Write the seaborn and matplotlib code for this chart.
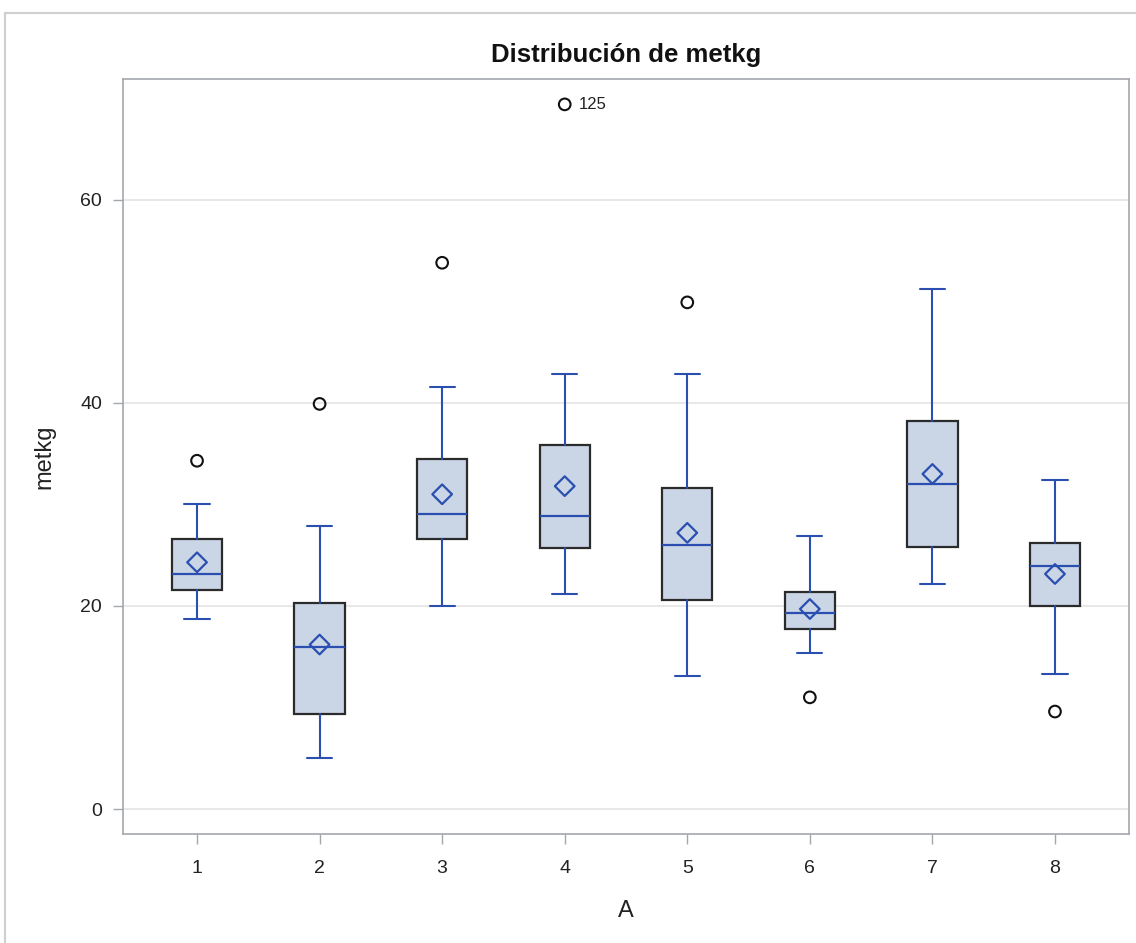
import numpy as np
import pandas as pd
import matplotlib
matplotlib.use("Agg")
import matplotlib.pyplot as plt
from matplotlib.lines import Line2D
import seaborn as sns

# Group labels (levels of A)
groups = ["1", "2", "3", "4", "5", "6", "7", "8"]

# Box statistics of metkg for each level of A
whis_lo = [18.7, 5.0, 20.0, 21.2, 13.1, 15.4, 22.2, 13.3]
q1      = [21.6, 9.4, 26.6, 25.7, 20.6, 17.7, 25.8, 20.0]
median  = [23.15, 16.0, 29.1, 28.9, 26.0, 19.3, 32.0, 23.9]
q3      = [26.6, 20.3, 34.5, 35.9, 31.6, 21.4, 38.2, 26.2]
whis_hi = [30.0, 27.9, 41.6, 42.8, 42.8, 26.9, 51.2, 32.4]
means   = [24.3, 16.2, 31.0, 31.8, 27.2, 19.7, 33.0, 23.15]

# Outlying observations: group index, value, observation id label ("" = unlabeled)
out_group = [0, 1, 2, 3, 4, 5, 7]
out_value = [34.3, 39.9, 53.8, 69.4, 49.9, 11.0, 9.6]
out_label = ["", "", "", "125", "", "", ""]

y_ticks = [0, 20, 40, 60]

sns.set_theme(style="white")
plt.rcParams["font.family"] = ["Liberation Sans", "DejaVu Sans"]

BOX_FILL = "#CAD5E5"
BOX_EDGE = "#2B2B2B"
BLUE = "#2A4FB0"
GRID = "#E4E4E4"
FRAME = "#A3A7AB"

fig = plt.figure(figsize=(11.36, 9.43), dpi=100)
ax = fig.add_axes([123 / 1136, 1 - 834 / 943, (1129 - 123) / 1136, (834 - 79) / 943])

stats = []
for i, g in enumerate(groups):
    stats.append(dict(label=g, whislo=whis_lo[i], q1=q1[i], med=median[i],
                      q3=q3[i], whishi=whis_hi[i], fliers=[]))

pos = np.arange(len(groups))
ax.bxp(stats, positions=pos, widths=0.41, capwidths=0.205, patch_artist=True,
       showfliers=False, showmeans=False,
       boxprops=dict(facecolor=BOX_FILL, edgecolor=BOX_EDGE, linewidth=1.6),
       whiskerprops=dict(color=BLUE, linewidth=1.5),
       capprops=dict(color=BLUE, linewidth=1.5),
       medianprops=dict(color=BLUE, linewidth=1.6, solid_capstyle="butt"))

# Mean markers
mean_df = pd.DataFrame({"pos": pos, "mean": means})
sns.scatterplot(data=mean_df, x="pos", y="mean", marker="D", s=100,
                facecolors="none", edgecolors=BLUE, linewidth=1.6,
                zorder=4, ax=ax, legend=False)

# Outliers
out_df = pd.DataFrame({"pos": out_group, "value": out_value, "label": out_label})
sns.scatterplot(data=out_df, x="pos", y="value", marker="o", s=70,
                facecolors="none", edgecolors="#111111", linewidth=1.5,
                zorder=4, ax=ax, legend=False)
for _, r in out_df.iterrows():
    if r["label"]:
        ax.annotate(r["label"], (r["pos"], r["value"]), xytext=(10, 0),
                    textcoords="offset points", va="center", ha="left",
                    fontsize=12, color="#222222")

ax.set_xlim(-0.604, 7.604)
ax.set_ylim(-2.46, 71.9)
ax.set_xticks(pos)
ax.set_xticklabels(groups)
ax.set_yticks(y_ticks)

ax.set_axisbelow(True)
ax.yaxis.grid(True, color=GRID, linewidth=1.2)
ax.xaxis.grid(False)
for sp in ax.spines.values():
    sp.set_color(FRAME)
    sp.set_linewidth(1.2)

ax.tick_params(axis="both", which="major", direction="out", length=7,
               width=1.0, color=FRAME, labelsize=14, labelcolor="#222222",
               bottom=True, left=True)
ax.tick_params(axis="y", pad=8)
ax.tick_params(axis="x", pad=12)

ax.set_xlabel("A", fontsize=17, color="#222222", labelpad=16)
ax.set_ylabel("metkg", fontsize=17, color="#222222", labelpad=18)
ax.set_title("Distribución de metkg", fontsize=18.5, fontweight="bold",
             color="#111111", pad=12)

# Outer graph border (top and left edges)
fig.add_artist(Line2D([5 / 1136, 1.0], [1 - 12.5 / 943, 1 - 12.5 / 943],
                      transform=fig.transFigure, color="#CFCFCF", linewidth=1.5))
fig.add_artist(Line2D([5 / 1136, 5 / 1136], [0.0, 1 - 12.5 / 943],
                      transform=fig.transFigure, color="#CFCFCF", linewidth=1.5))

fig.savefig("out.png", dpi=100)
